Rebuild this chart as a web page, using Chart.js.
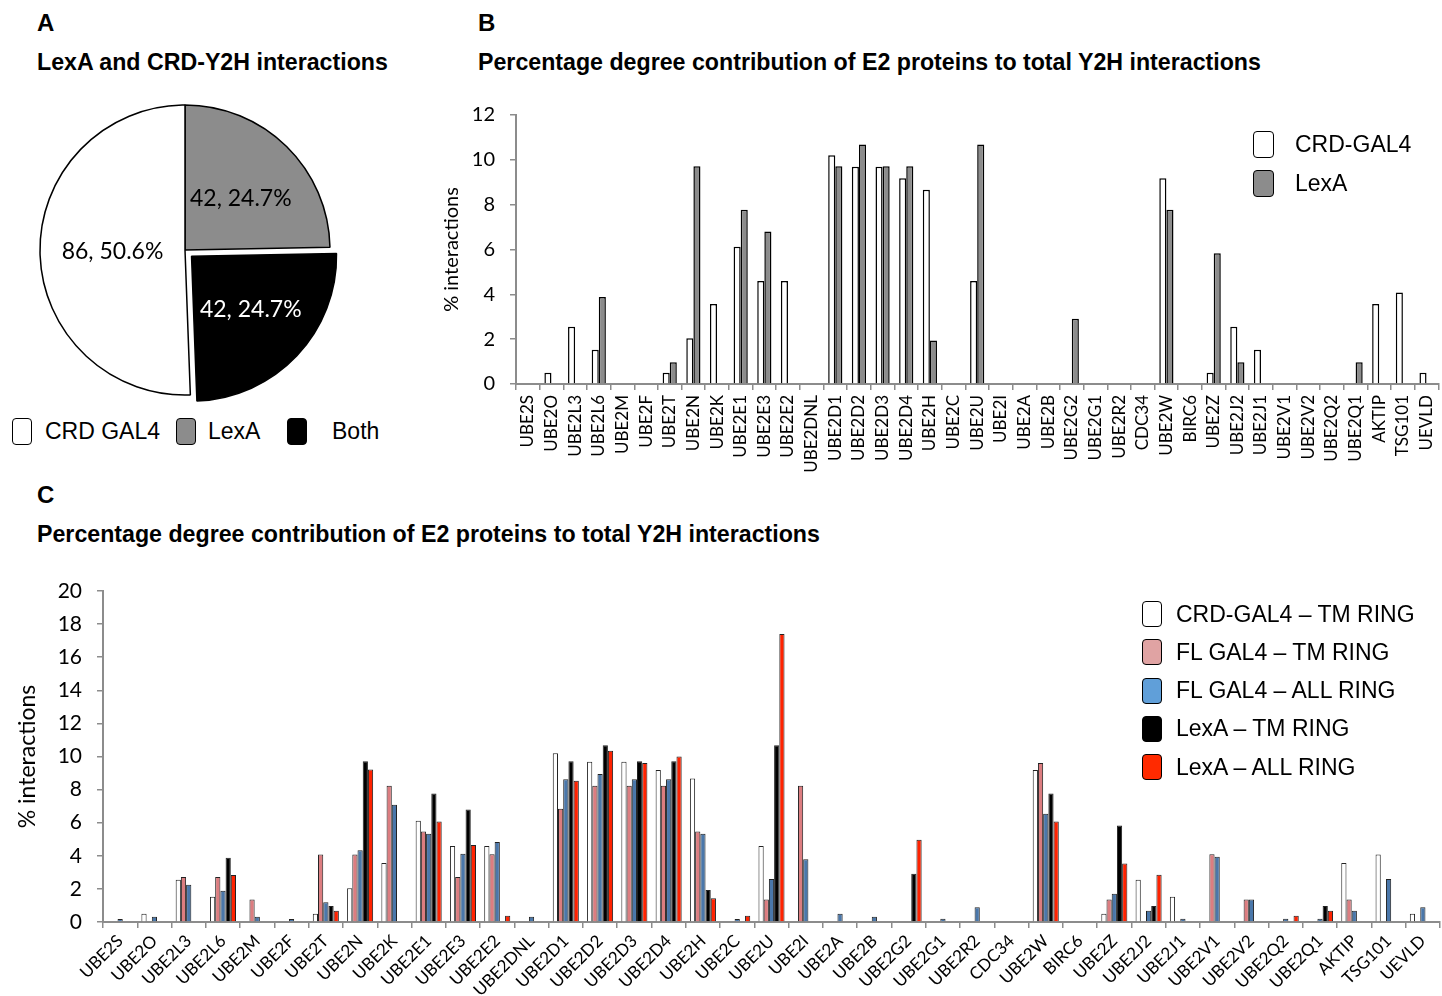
<!DOCTYPE html>
<html>
<head>
<meta charset="utf-8">
<script src="https://cdn.jsdelivr.net/npm/chart.js@4.4.1/dist/chart.umd.min.js"></script>
<style>
  html, body { margin:0; padding:0; background:#fff; }
  #wrap { position:relative; width:1442px; height:996px; overflow:hidden; background:#fff; font-family:"Liberation Sans", Arial, sans-serif; color:#000; }
  .abs { position:absolute; line-height:1; white-space:nowrap; }
  .panel { font-weight:bold; font-size:24px; }
  .title { font-weight:bold; font-size:23.2px; }
  canvas { position:absolute; }
  .sw { position:absolute; box-sizing:border-box; border:1.5px solid #000; border-radius:4px; }
  .lg { position:absolute; font-size:23px; line-height:1; white-space:nowrap; }
</style>
</head>
<body>
<div id="wrap">
  <div class="abs panel" style="left:37px; top:11px;">A</div>
  <div class="abs title" style="left:37px; top:51px;">LexA and CRD-Y2H interactions</div>
  <div class="abs panel" style="left:478px; top:11px;">B</div>
  <div class="abs title" style="left:478px; top:51px;">Percentage degree contribution of E2 proteins to total Y2H interactions</div>
  <div class="abs panel" style="left:37px; top:483px;">C</div>
  <div class="abs title" style="left:37px; top:523px;">Percentage degree contribution of E2 proteins to total Y2H interactions</div>

  <canvas id="pie" width="330" height="330" style="left:20px; top:85px;"></canvas>
  <canvas id="barB" width="1012" height="380" style="left:440px; top:100px;"></canvas>
  <canvas id="barC" width="1433" height="421" style="left:14px; top:575px;"></canvas>
  <div id="legends"></div>
</div>
<script>
// ---------- DATA ----------
const pieLabels = ['LexA', 'Both', 'CRD GAL4'];
const pieValues = [42, 42, 86];
const legendOrderA = [2, 0, 1];

const categories = ['UBE2S','UBE2O','UBE2L3','UBE2L6','UBE2M','UBE2F','UBE2T','UBE2N','UBE2K','UBE2E1',
  'UBE2E3','UBE2E2','UBE2DNL','UBE2D1','UBE2D2','UBE2D3','UBE2D4','UBE2H','UBE2C','UBE2U',
  'UBE2I','UBE2A','UBE2B','UBE2G2','UBE2G1','UBE2R2','CDC34','UBE2W','BIRC6','UBE2Z',
  'UBE2J2','UBE2J1','UBE2V1','UBE2V2','UBE2Q2','UBE2Q1','AKTIP','TSG101','UEVLD'];

// Panel B
const seriesNamesB = ['CRD-GAL4', 'LexA'];
const crdGal4 = [null,0.5,2.55,1.53,null,null,0.5,2.04,3.57,6.12,
  4.59,4.59,null,10.2,9.69,9.69,9.18,8.67,null,4.59,
  null,null,null,null,null,null,null,9.18,null,0.5,
  2.55,1.53,null,null,null,null,3.57,4.08,0.5];
const lexA = [null,null,null,3.88,null,null,0.97,9.71,null,7.77,
  6.80,null,null,9.71,10.68,9.71,9.71,1.94,null,10.68,
  null,null,null,2.91,null,null,null,7.77,null,5.83,
  0.97,null,null,null,null,0.97,null,null,null];
const yTicksB = { min:0, max:12, step:2 };

// Panel C
const seriesNamesC = ['CRD-GAL4 \u2013 TM RING', 'FL GAL4 \u2013 TM RING', 'FL GAL4 \u2013 ALL RING', 'LexA \u2013 TM RING', 'LexA \u2013 ALL RING'];
const crdTm = crdGal4;
const flTm = [null,null,2.72,2.72,1.36,null,4.08,4.08,8.23,5.47,
  2.72,4.10,null,6.84,8.23,8.23,8.23,5.47,null,1.36,
  8.23,null,null,null,null,null,null,9.60,null,1.36,
  null,null,4.10,1.36,null,null,1.36,null,null];
const flAll = [0.18,0.32,2.25,1.89,0.32,0.18,1.19,4.33,7.08,5.33,
  4.12,4.83,0.32,8.63,8.95,8.63,8.63,5.33,0.18,2.60,
  3.79,0.50,0.32,null,0.20,0.89,null,6.54,null,1.71,
  0.68,0.20,3.94,1.36,0.20,0.20,0.68,2.60,0.89];
const lexTm = lexA;
const lexAll = [null,null,null,2.84,null,null,0.68,9.22,null,6.07,
  4.65,0.38,null,8.53,10.34,9.60,10.00,1.43,0.38,17.40,
  null,null,null,4.97,null,null,null,6.07,null,3.54,
  2.86,null,null,null,0.38,0.68,null,null,null];
const yTicksC = { min:0, max:20, step:2 };

// ---------- STYLE ----------
const pieColors = ['#8c8c8c', '#000000', '#ffffff'];
const pieTextColors = ['#000', '#fff', '#000'];
const colorsB = ['#ffffff', '#8c8c8c'];
const colorsC = ['#ffffff', '#dc7d80', '#4a77aa', '#000000', '#ff2200'];
const legendColorsC = ['#ffffff', '#e0a3a3', '#609fd9', '#000000', '#ff2a00'];
const axisGray = '#8c8c8c';
const tickFont = 'Lato';

// ---------- PIE ----------
const pieLabelPlugin = {
  id: 'pieLabels',
  afterDatasetsDraw(chart) {
    const ctx = chart.ctx;
    const meta = chart.getDatasetMeta(0);
    const total = pieValues.reduce((a, b) => a + b, 0);
    meta.data.forEach((arc, i) => {
      const p = arc.getCenterPoint();
      ctx.save();
      ctx.fillStyle = pieTextColors[i];
      ctx.font = '23px ' + tickFont;
      ctx.textAlign = 'center';
      ctx.textBaseline = 'middle';
      ctx.fillText(pieValues[i] + ', ' + (pieValues[i] / total * 100).toFixed(1) + '%', p.x + (i === 0 ? 5 : 0), p.y + (i === 1 ? -3 : 0));
      ctx.restore();
    });
  }
};

new Chart(document.getElementById('pie'), {
  type: 'pie',
  data: { labels: pieLabels, datasets: [{ data: pieValues, backgroundColor: pieColors, borderColor: '#000', borderWidth: 1.5, offset: [0, 36, 0] }] },
  options: {
    responsive: false, animation: false, radius: 145,
    layout: { padding: 0 },
    plugins: { legend: { display: false }, tooltip: { enabled: false } }
  },
  plugins: [pieLabelPlugin]
});

// ---------- helpers ----------
function axisCommon() {
  return {
    grid: { drawOnChartArea: false, drawTicks: true, tickLength: 6, color: axisGray, lineWidth: 1.5 },
    border: { color: axisGray, width: 2 }
  };
}

// ---------- BAR B ----------
new Chart(document.getElementById('barB'), {
  type: 'bar',
  data: {
    labels: categories,
    datasets: [
      { label: seriesNamesB[0], data: crdGal4, backgroundColor: colorsB[0], borderColor: '#000', borderWidth: 1.5 },
      { label: seriesNamesB[1], data: lexA, backgroundColor: colorsB[1], borderColor: '#000', borderWidth: 1.5 }
    ]
  },
  options: {
    responsive: false, animation: false,
    layout: { padding: { top: 15, right: 4, left: 0, bottom: 0 } },
    datasets: { bar: { categoryPercentage: 0.6, barPercentage: 1 } },
    plugins: { legend: { display: false }, tooltip: { enabled: false } },
    scales: {
      x: Object.assign(axisCommon(), {
        ticks: { autoSkip: false, minRotation: 90, maxRotation: 90, padding: 5, color: '#000', font: { family: tickFont, size: 17 } },
        afterFit(s) { s.height = 96; }
      }),
      y: Object.assign(axisCommon(), {
        min: yTicksB.min, max: yTicksB.max,
        ticks: { stepSize: yTicksB.step, padding: 15, color: '#000', font: { family: tickFont, size: 20 } },
        title: { display: true, text: '% interactions', color: '#000', font: { family: tickFont, size: 20 }, padding: 0 },
        afterFit(s) { s.width = 76; s.paddingTop = 0; s.paddingBottom = 0; }
      })
    }
  }
});

// ---------- BAR C ----------
const dataC = [crdTm, flTm, flAll, lexTm, lexAll];
new Chart(document.getElementById('barC'), {
  type: 'bar',
  data: {
    labels: categories,
    datasets: dataC.map((d, i) => ({ label: seriesNamesC[i], data: d, backgroundColor: colorsC[i], borderColor: '#222', borderWidth: 1 }))
  },
  options: {
    responsive: false, animation: false,
    layout: { padding: { top: 16, right: 7, left: 0, bottom: 0 } },
    datasets: { bar: { categoryPercentage: 0.76, barPercentage: 1 } },
    plugins: { legend: { display: false }, tooltip: { enabled: false } },
    scales: {
      x: Object.assign(axisCommon(), {
        ticks: { autoSkip: false, minRotation: 45, maxRotation: 45, padding: 3, color: '#000', font: { family: tickFont, size: 17 } },
        afterFit(s) { s.height = 74; }
      }),
      y: Object.assign(axisCommon(), {
        min: yTicksC.min, max: yTicksC.max,
        ticks: { stepSize: yTicksC.step, padding: 15, color: '#000', font: { family: tickFont, size: 21 } },
        title: { display: true, text: '% interactions', color: '#000', font: { family: tickFont, size: 23 }, padding: 0 },
        afterFit(s) { s.width = 89; s.paddingTop = 0; s.paddingBottom = 0; }
      })
    }
  }
});

// ---------- HTML legends ----------
const legendHost = document.getElementById('legends');
function addItem(swLeft, swTop, swW, swH, color, textLeft, text) {
  const sw = document.createElement('div');
  sw.className = 'sw';
  sw.style.cssText = `left:${swLeft}px; top:${swTop}px; width:${swW}px; height:${swH}px; background:${color};`;
  legendHost.appendChild(sw);
  const t = document.createElement('div');
  t.className = 'lg';
  t.textContent = text;
  t.style.left = textLeft + 'px';
  t.style.top = (swTop + swH / 2 - 11.5) + 'px';
  legendHost.appendChild(t);
}
// Panel A legend (layout positions)
const legendAPos = [[12, 45], [176, 208], [287, 332]];
legendOrderA.forEach((idx, k) => addItem(legendAPos[k][0], 418, 20, 27, pieColors[idx], legendAPos[k][1], pieLabels[idx]));
// Panel B legend
seriesNamesB.forEach((n, i) => addItem(1253, 131 + i * 39, 21, 27, colorsB[i], 1295, n));
// Panel C legend
seriesNamesC.forEach((n, i) => addItem(1142, 601 + i * 38.3, 20, 26, legendColorsC[i], 1176, n));
</script>
</body>
</html>
